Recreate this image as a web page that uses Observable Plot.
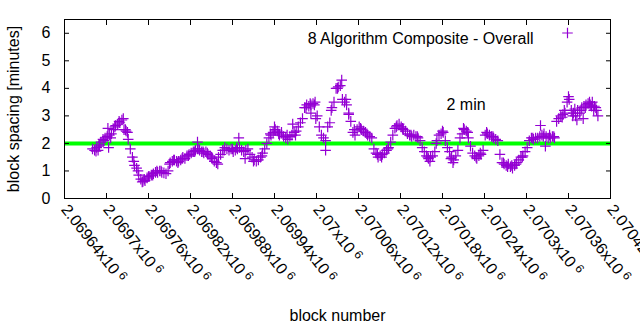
<!DOCTYPE html>
<html><head><meta charset="utf-8">
<script src="https://cdn.jsdelivr.net/npm/d3@7"></script>
<script src="https://cdn.jsdelivr.net/npm/@observablehq/plot@0.6"></script>
<style>html,body{margin:0;padding:0;background:#fff}svg{display:block}</style>
</head><body><div id="chart"></div>
<script>
// ---- data ----
const blocks = [
  2069680,2069683,2069686,2069689,2069692,2069695,2069698,2069701,2069704,2069707,
  2069710,2069713,2069716,2069719,2069722,2069725,2069728,2069731,2069734,2069737,
  2069740,2069743,2069746,2069749,2069752,2069755,2069758,2069761,2069764,2069767,
  2069770,2069773,2069776,2069779,2069782,2069785,2069788,2069791,2069794,2069797,
  2069800,2069803,2069806,2069809,2069812,2069815,2069818,2069821,2069824,2069827,
  2069830,2069833,2069836,2069839,2069842,2069845,2069848,2069851,2069854,2069857,
  2069860,2069863,2069866,2069869,2069872,2069875,2069878,2069881,2069884,2069887,
  2069890,2069893,2069896,2069899,2069902,2069905,2069908,2069911,2069914,2069917,
  2069920,2069923,2069926,2069929,2069932,2069935,2069938,2069941,2069944,2069947,
  2069950,2069953,2069956,2069959,2069962,2069965,2069968,2069971,2069974,2069977,
  2069980,2069983,2069986,2069989,2069992,2069995,2069998,2070001,2070004,2070007,
  2070010,2070013,2070016,2070019,2070022,2070025,2070028,2070031,2070034,2070037,
  2070040,2070043,2070046,2070049,2070052,2070055,2070058,2070061,2070064,2070067,
  2070070,2070073,2070076,2070079,2070082,2070085,2070088,2070091,2070094,2070097,
  2070100,2070103,2070106,2070109,2070112,2070115,2070118,2070121,2070124,2070127,
  2070130,2070133,2070136,2070139,2070142,2070145,2070148,2070151,2070154,2070157,
  2070160,2070163,2070166,2070169,2070172,2070175,2070178,2070181,2070184,2070187,
  2070190,2070193,2070196,2070199,2070202,2070205,2070208,2070211,2070214,2070217,
  2070220,2070223,2070226,2070229,2070232,2070235,2070238,2070241,2070244,2070247,
  2070250,2070253,2070256,2070259,2070262,2070265,2070268,2070271,2070274,2070277,
  2070280,2070283,2070286,2070289,2070292,2070295,2070298,2070301,2070304,2070307,
  2070310,2070313,2070316,2070319,2070322,2070325,2070328,2070331,2070334,2070337,
  2070340,2070343,2070346,2070349,2070352,2070355,2070358,2070361,2070364,2070367,
  2070370,2070373,2070376,2070379,2070382,2070385,2070388,2070391,2070394,2070397,
  2070400,
  // extra scatter
  2069685,2069690,2069696,2069706,2069712,2069718,2069724,2069727,2069730,2069739,
  2069745,2069751,2069754,2069760,2069766,2069772,2069778,2069790,2069796,2069802,
  2069808,2069817,2069826,2069832,2069838,2069844,2069850,2069859,2069868,2069880,
  2069886,2069898,2069910,2069922,2069934,2069940,2069946,2069958,2069970,2069985,
  2069991,2069997,2070021,2070030,2070042,2070054,2070063,2070072,2070087,2070093,
  2070102,2070114,2070123,2070135,2070144,2070159,2070162,2070171,2070180,2070192,
  2070195,2070210,2070216,2070228,2070234,2070243,2070252,2070267,2070273,2070279,
  2070285,2070294,2070309,2070324,2070333,2070339,2070351,2070354,2070366,2070372,
  2070378,2070384,2070390,2070393,2070396,2070399,2070381,2070369,
  // outliers
  2069702,2069703,2069688,2069830,2069889,2069966,2069992,2069999,2070013,2070036,
  2070046,2070320,2070327,2070360,2070402
];
const spacing = [
  1.8,1.75,1.85,1.9,2.05,2.15,2.2,2.25,2.3,2.35,
  2.5,2.65,2.7,2.75,2.85,2.5,2.45,2.15,1.8,1.5,
  1.2,1.1,0.85,0.7,0.62,0.65,0.75,0.8,0.85,0.9,
  0.95,0.95,1.0,0.95,0.93,0.9,1.0,1.3,1.35,1.4,
  1.35,1.35,1.4,1.5,1.45,1.55,1.6,1.65,1.7,1.75,
  1.8,1.75,1.7,1.65,1.7,1.6,1.55,1.45,1.35,1.3,
  1.5,1.6,1.75,1.85,1.8,1.75,1.8,1.7,1.75,1.8,
  1.85,1.75,1.7,1.75,1.8,1.6,1.5,1.4,1.35,1.4,
  1.5,1.65,1.8,2.0,2.2,2.3,2.4,2.5,2.45,2.3,
  2.4,2.25,2.2,2.15,2.25,2.3,2.4,2.45,2.6,2.75,
  2.9,3.3,3.4,3.35,3.4,3.45,3.5,3.0,2.6,2.3,
  2.2,2.1,2.6,2.75,3.3,3.5,4.0,4.05,4.1,3.6,
  3.5,3.4,3.1,2.8,2.4,2.3,2.5,2.6,2.5,2.45,
  2.4,2.3,2.25,2.2,1.8,1.65,1.5,1.55,1.6,1.65,
  1.75,1.85,2.05,2.3,2.55,2.65,2.7,2.6,2.5,2.45,
  2.35,2.3,2.25,2.3,2.25,2.2,2.1,1.85,1.7,1.55,
  1.45,1.5,1.55,1.7,2.1,2.3,2.35,2.4,2.1,1.85,
  1.7,1.5,1.4,1.55,1.75,2.2,2.35,2.5,2.45,2.2,
  1.9,1.65,1.55,1.45,1.55,1.6,1.75,2.3,2.35,2.3,
  2.25,2.2,2.15,2.1,1.6,1.3,1.25,1.2,1.25,1.15,
  1.1,1.2,1.3,1.4,1.5,1.55,1.7,1.85,2.1,2.2,
  2.15,2.2,2.2,2.25,2.3,2.35,2.25,2.2,2.2,2.25,
  2.2,2.8,2.9,3.0,3.05,3.1,3.5,3.6,3.2,3.1,
  3.0,3.2,3.1,3.3,3.35,3.4,3.45,3.4,3.5,3.35,
  3.2,
  // extra scatter
  1.72,1.95,2.1,2.2,2.6,2.8,2.9,2.5,2.4,1.35,
  1.0,0.6,0.7,0.8,0.85,1.0,1.0,1.25,1.4,1.3,
  1.45,1.55,1.7,1.8,1.7,1.65,1.5,1.25,1.75,1.8,
  1.85,1.45,1.35,1.55,2.35,2.6,2.35,2.3,2.3,3.3,
  3.45,3.4,3.2,4.0,3.6,2.5,2.55,2.35,1.6,1.5,
  1.8,2.6,2.55,2.3,2.25,1.5,1.35,2.0,2.45,1.45,
  1.3,2.55,2.4,1.5,1.65,2.4,2.25,1.3,1.15,1.2,
  1.25,1.5,2.2,2.25,2.3,2.25,2.95,3.2,3.0,2.85,
  3.2,3.3,3.5,3.35,3.2,3.3,2.9,3.25,
  // outliers
  2.55,1.85,1.75,2.05,2.2,2.7,3.1,2.9,1.75,4.3,
  3.05,2.65,1.9,3.7,3.0
];
const xTicks = [2069640,2069700,2069760,2069820,2069880,2069940,2070000,2070060,2070120,2070180,2070240,2070300,2070360,2070420];
const xTickMantissa = ["2.06964","2.0697","2.06976","2.06982","2.06988","2.06994","2.07","2.07006","2.07012","2.07018","2.07024","2.0703","2.07036","2.07042"];
const xTickExponent = "6";
const yTicks = [0,1,2,3,4,5,6];
const targetSpacing = [2];
const seriesLabel = "8 Algorithm Composite - Overall";
const lineLabel = "2 min";
const xLabel = "block number";
const yLabel = "block spacing [minutes]";

const data = blocks.map((b, i) => ({block: b, spacing: spacing[i]}));
const PURPLE = "#9400d3";

const chart = Plot.plot({
  width: 640, height: 330,
  marginLeft: 64, marginRight: 30, marginTop: 19, marginBottom: 132,
  style: {fontFamily: "'Liberation Sans', Arial, sans-serif", fontSize: "16px", color: "#000", background: "#fff", overflow: "visible"},
  x: {domain: [2069640, 2070420]},
  y: {domain: [0, 6.5]},
  marks: [
    Plot.ruleY(targetSpacing, {stroke: "#00ff00", strokeWidth: 4}),
    Plot.dot(data, {x: "block", y: "spacing", symbol: "plus", r: 3.5, stroke: PURPLE, strokeWidth: 1.2}),
    Plot.frame({stroke: "#000", strokeWidth: 1}),
    Plot.axisY({ticks: yTicks, tickSize: -5, tickPadding: 19, tickFormat: "d", label: yLabel, labelAnchor: "center", labelOffset: 57, labelArrow: "none"}),
    Plot.axisY({anchor: "right", ticks: yTicks, tickSize: -5, tickFormat: () => "", label: null}),
    Plot.axisX({ticks: xTicks, tickSize: -5, tickPadding: 13, tickRotate: 52,
      tickFormat: (d) => xTickMantissa[xTicks.indexOf(d)] + "x10",
      label: xLabel, labelAnchor: "center", labelOffset: 122, labelArrow: "none"}),
    Plot.axisX({anchor: "top", ticks: xTicks, tickSize: -5, tickFormat: () => "", label: null}),
    Plot.text([seriesLabel], {frameAnchor: "top-right", dx: -77, dy: 13, textAnchor: "end", fill: "#000"}),
    Plot.dot([seriesLabel], {x: null, y: null, frameAnchor: "top-right", dx: -43, dy: 13.5, symbol: "plus", r: 3.5, stroke: PURPLE, strokeWidth: 1.2}),
    Plot.text([lineLabel], {frameAnchor: "top-left", dx: 382, dy: 79, textAnchor: "start", fill: "#000"})
  ]
});

chart.querySelectorAll('g[aria-label="x-axis tick label"] text').forEach(t => {
  if (!t.textContent || !t.textContent.endsWith("x10")) return;
  const sup = document.createElementNS("http://www.w3.org/2000/svg", "tspan");
  sup.setAttribute("dx", "0.3em");
  sup.setAttribute("dy", "-0.4em");
  sup.setAttribute("font-size", "0.75em");
  sup.textContent = xTickExponent;
  t.appendChild(sup);
});

document.getElementById("chart").appendChild(chart);
</script>
</body></html>
